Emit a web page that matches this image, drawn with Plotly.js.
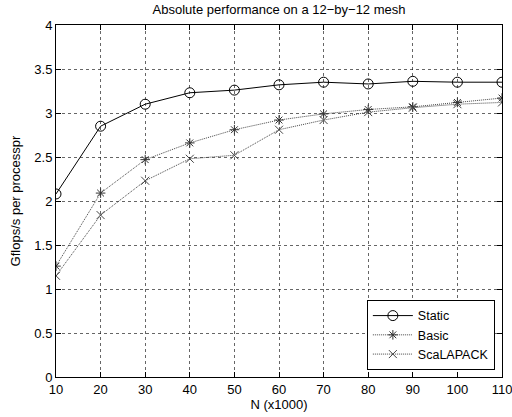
<!DOCTYPE html>
<html><head><meta charset="utf-8">
<script src="https://cdn.plot.ly/plotly-3.0.1.min.js"></script>
<style>html,body{margin:0;padding:0;background:#fff}#chart{width:512px;height:417px}</style>
</head><body><div id="chart"></div>
<script>
const nValues = [10, 20, 30, 40, 50, 60, 70, 80, 90, 100, 110];
const staticPerf = [2.08, 2.85, 3.10, 3.23, 3.26, 3.32, 3.35, 3.33, 3.36, 3.35, 3.35];
const basicPerf = [1.26, 2.09, 2.47, 2.66, 2.81, 2.92, 2.99, 3.04, 3.07, 3.12, 3.17];
const scalapackPerf = [1.15, 1.84, 2.23, 2.48, 2.52, 2.81, 2.92, 3.01, 3.06, 3.10, 3.12];
const seriesNames = ['Static', 'Basic', 'ScaLAPACK'];
const yTicks = [0, 0.5, 1, 1.5, 2, 2.5, 3, 3.5, 4];

const font = {family: 'Liberation Sans, Arial, sans-serif', size: 13, color: '#000'};
const traces = [
  {x: nValues, y: staticPerf, name: seriesNames[0], mode: 'lines+markers',
   line: {color: '#000', width: 1}, marker: {symbol: 'circle-open', size: 10, color: '#000', line: {width: 1}}},
  {x: nValues, y: basicPerf, name: seriesNames[1], mode: 'lines+markers',
   line: {color: '#444', width: 1, dash: '1px,1px'}, marker: {symbol: 'asterisk-open', size: 8, color: '#333', line: {width: 1, color: '#333'}}},
  {x: nValues, y: scalapackPerf, name: seriesNames[2], mode: 'lines+markers',
   line: {color: '#444', width: 1, dash: '1px,1px'}, marker: {symbol: 'x-thin-open', size: 8, color: '#444', line: {width: 1, color: '#444'}}}
];
const layout = {
  width: 512, height: 417,
  margin: {l: 56, r: 10, t: 25, b: 40},
  paper_bgcolor: '#fff', plot_bgcolor: '#fff',
  font: font,
  showlegend: true,
  title: {text: 'Absolute performance on a 12\u2212by\u221212 mesh', font: {family: font.family, size: 13, color: '#000'}, x: 0.545, xanchor: 'center', y: 0.988, yanchor: 'top'},
  xaxis: {range: [10, 110], tickvals: nValues, ticks: 'inside', ticklen: 5, tickcolor: '#000',
    showline: true, linecolor: '#000', linewidth: 1, mirror: 'ticks', zeroline: false,
    showgrid: true, gridcolor: '#000', griddash: 'dot', gridwidth: 0.6, ticklabeloverflow: 'allow',
    title: {text: 'N (x1000)', font: font, standoff: 2}, tickfont: font},
  yaxis: {range: [0, 4], tickvals: yTicks, ticks: 'inside', ticklen: 5, tickcolor: '#000',
    showline: true, linecolor: '#000', linewidth: 1, mirror: 'ticks', zeroline: false,
    showgrid: true, gridcolor: '#000', griddash: 'dot', gridwidth: 0.6,
    title: {text: 'Gflops/s per processpr', font: font, standoff: 10}, tickfont: font},
  legend: {x: 0.984, xanchor: 'right', y: 0.02, yanchor: 'bottom', bordercolor: '#000', borderwidth: 1,
    bgcolor: '#fff', font: {family: font.family, size: 12.5, color: '#000'}, itemwidth: 40, tracegroupgap: 0}
};
Plotly.newPlot('chart', traces, layout, {displayModeBar: false, staticPlot: true});
</script></body></html>
